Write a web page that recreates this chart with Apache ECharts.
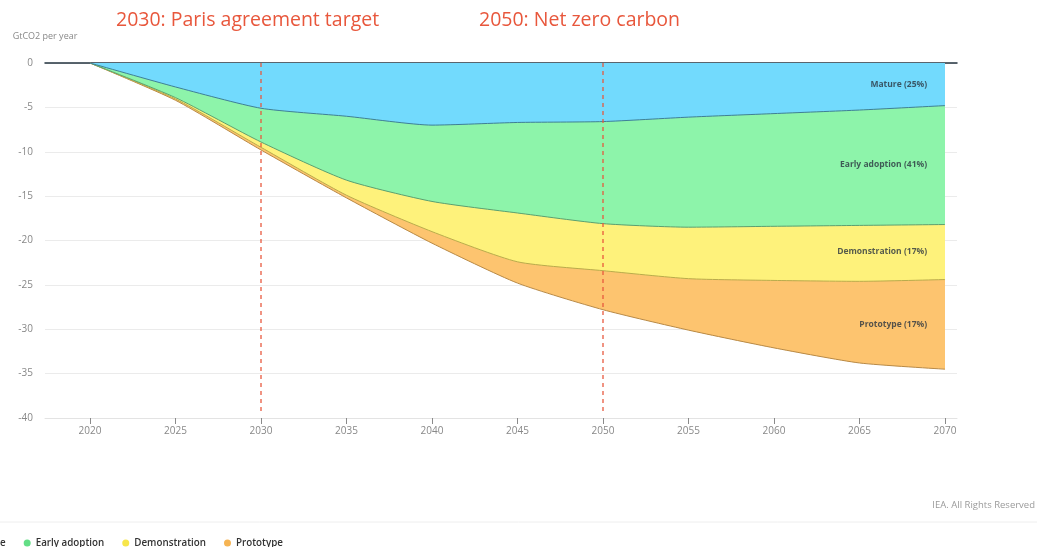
<!DOCTYPE html>
<html>
<head>
<meta charset="utf-8">
<script src="https://cdn.jsdelivr.net/npm/echarts@6/dist/echarts.min.js"></script>
<style>
  html, body { margin: 0; padding: 0; background: #fff; }
  #chart { width: 1037px; height: 547px; }
</style>
</head>
<body>
<div id="chart"></div>
<script>
// years on the x axis
const years = [2020, 2025, 2030, 2035, 2040, 2045, 2050, 2055, 2060, 2065, 2070];
const yearTicks = [2020, 2025, 2030, 2035, 2040, 2045, 2050, 2055, 2060, 2065, 2070];

// GtCO2 per year, contribution of each maturity level (stacked downwards)
const mature        = [0, -2.7, -5.1, -6.0, -7.0, -6.7, -6.6, -6.1, -5.7, -5.3, -4.8];
const earlyAdoption = [0, -1.2, -3.8, -7.2, -8.6, -10.2, -11.5, -12.4, -12.7, -13.0, -13.4];
const demonstration = [0, -0.15, -0.6, -1.7, -3.4, -5.5, -5.3, -5.8, -6.1, -6.3, -6.2];
const prototype     = [0, -0.15, -0.3, -0.3, -1.3, -2.4, -4.4, -5.8, -7.6, -9.2, -10.1];

const seriesNames = ['Mature', 'Early adoption', 'Demonstration', 'Prototype'];
const bandLabels = ['Mature (25%)', 'Early adoption (41%)', 'Demonstration (17%)', 'Prototype (17%)'];

// milestone lines: year, and the y span they are drawn over
const milestones = [2030, 2050];
const milestoneSpan = [0, -39.2];

const fills = ['#72dafd', '#8df4aa', '#fef27b', '#fdc46f'];
const edges = ['#3f7f95', '#5c9f70', '#b9ab4c', '#b88a47'];
const dots  = ['#5fcdf5', '#63de86', '#f7e64a', '#f6b453'];

const bands = [mature, earlyAdoption, demonstration, prototype];

// running totals = lower edge of each band (echarts stacks on x when both axes are value axes)
const lower = [];
bands.forEach((b, i) => {
  lower.push(b.map((v, j) => +(v + (i ? lower[i - 1][j] : 0)).toFixed(2)));
});

// label position: middle of each band at the last year
const last = years.length - 1;
const labelPoints = bands.map((b, i) => {
  const upper = i ? lower[i - 1][last] : 0;
  return { value: [years[last], (upper + lower[i][last]) / 2], label: { formatter: bandLabels[i] } };
});

const chart = echarts.init(document.getElementById('chart'));
const font = '"Open Sans", "Noto Sans", sans-serif';

chart.setOption({
  animation: false,
  textStyle: { fontFamily: font },
  title: [
    { text: '2030: Paris agreement target', left: 111, top: 5,
      textStyle: { color: '#e8573c', fontSize: 19.5, fontWeight: 'normal', fontFamily: font } },
    { text: '2050: Net zero carbon', left: 474, top: 5,
      textStyle: { color: '#e8573c', fontSize: 19.5, fontWeight: 'normal', fontFamily: font } },
    { text: 'IEA. All Rights Reserved', right: -3, top: 495,
      textStyle: { color: '#9a9a9a', fontSize: 9.5, fontWeight: 'normal', fontFamily: font } }
  ],
  graphic: [
    { type: 'line', shape: { x1: 0, y1: 522, x2: 1037, y2: 522 },
      style: { stroke: '#eeeeee', lineWidth: 1 } }
  ],
  legend: {
    left: -46, top: 533,
    icon: 'circle', itemWidth: 7, itemHeight: 7, itemGap: 18,
    data: seriesNames,
    textStyle: { color: '#333', fontSize: 9.8, fontWeight: 600, fontFamily: font }
  },
  grid: { left: 45, right: 80, top: 63, bottom: 129 },
  xAxis: [
    {
      type: 'value', min: 2017.37, max: 2070.7, position: 'bottom',
      axisLine: { onZero: false, lineStyle: { color: '#e3e3e3' } },
      axisTick: { show: true, inside: false, length: 6, customValues: yearTicks,
        lineStyle: { color: '#8a8a8a' } },
      axisLabel: { customValues: yearTicks, color: '#888', fontSize: 10, margin: 8,
        formatter: v => String(v) },
      splitLine: { show: false }
    },
    {
      type: 'value', min: 2017.37, max: 2070.7, position: 'top',
      axisLine: { onZero: false, lineStyle: { color: '#23333f', width: 1.5 } },
      axisTick: { show: false }, axisLabel: { show: false }, splitLine: { show: false }
    }
  ],
  yAxis: {
    type: 'value', min: -40, max: 0, interval: 5,
    name: 'GtCO2 per year', nameLocation: 'end', nameGap: 22,
    nameTextStyle: { color: '#888', fontSize: 9, align: 'center' },
    axisLine: { show: false }, axisTick: { show: false },
    axisLabel: { color: '#888', fontSize: 10, margin: 12 },
    splitLine: { lineStyle: { color: '#ebebeb' } }
  },
  series: lower.map((edge, i) => ({
    name: seriesNames[i],
    type: 'line',
    symbol: 'none',
    smooth: 0.2,
    data: edge.map((v, j) => [years[j], v]),
    z: 4 - i,
    lineStyle: { color: edges[i], width: 1 },
    itemStyle: { color: dots[i] },
    areaStyle: { color: fills[i], opacity: 1, origin: 'end' }
  })).concat([{
    type: 'scatter',
    symbolSize: 0,
    z: 10,
    silent: true,
    data: labelPoints,
    label: {
      show: true, position: 'left', distance: 18,
      color: '#2a3540', fontSize: 8.5, fontWeight: 'bold', fontFamily: font
    },
    markLine: {
      z: 20,
      silent: true, symbol: 'none',
      lineStyle: { color: '#e8573c', type: [4, 4], width: 1.5, opacity: 0.85 },
      label: { show: false },
      data: milestones.map(m => [
        { coord: [m, milestoneSpan[0]] },
        { coord: [m, milestoneSpan[1]] }
      ])
    }
  }])
});
</script>
</body>
</html>
